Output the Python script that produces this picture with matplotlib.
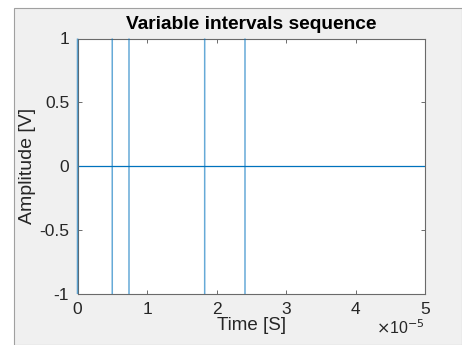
import matplotlib
matplotlib.use("Agg")
import matplotlib.pyplot as plt
import numpy as np
from matplotlib.ticker import FuncFormatter
from matplotlib.patches import Rectangle

# Data: pulse times (s) of the variable-interval sequence
pulse_times = [0.0, 0.50e-5, 0.741e-5, 1.83e-5, 2.41e-5]
pulse_high = 1.0
pulse_low = -1.0
baseline = 0.0
t_start = 0.0
t_end = 5e-5

xticks = [0, 1e-5, 2e-5, 3e-5, 4e-5, 5e-5]
yticks = [-1, -0.5, 0, 0.5, 1]

plt.rcParams['font.family'] = ['Liberation Sans', 'DejaVu Sans']

W, H = 462, 345
fig = plt.figure(figsize=(W / 100, H / 100), dpi=100, facecolor='white')

# window-like frame
fig.patches.append(Rectangle((14 / W, 0), 1 - 14 / W, 1 - 8 / H, transform=fig.transFigure,
                             facecolor='#f0f0f0', edgecolor='#a0a0a0', linewidth=0.8, zorder=-10))

ax = fig.add_axes([77.5 / W, 1 - 294 / H, (425 - 77.5) / W, (294 - 38.5) / H])
ax.set_facecolor('white')
ax.vlines(pulse_times, pulse_low, pulse_high, colors='#0072BD', alpha=0.6, linewidth=1.1,
          snap=False, clip_on=False, zorder=3)
ax.plot([t_start, t_end], [baseline, baseline], color='#0072BD', linewidth=0.9)

ax.set_xlim(0, t_end)
ax.set_ylim(-1, 1)
ax.set_xticks(xticks)
ax.set_yticks(yticks)
ax.xaxis.set_major_formatter(FuncFormatter(lambda v, p: f"{v / 1e-5:g}"))
ax.yaxis.set_major_formatter(FuncFormatter(lambda v, p: f"{v:g}"))
ax.tick_params(direction='in', length=3, width=0.6, colors='#555555', labelcolor='#262626',
               labelsize=12.5, top=True, right=True, pad=6)
for s in ax.spines.values():
    s.set_color('#6a6a6a')
    s.set_linewidth(0.8)

ax.set_title('Variable intervals sequence', fontsize=13.8, fontweight='bold', color='black', pad=7)
ax.set_xlabel('Time [S]', fontsize=13.5, color='#262626', labelpad=0)
ax.set_ylabel('Amplitude [V]', fontsize=14, color='#262626')
ax.yaxis.set_label_coords((28 - 77.5) / 347.5, 0.5)
ax.yaxis.label.set_va('center')

fig.text(425 / W, 1 - 328 / H, r'$\times$10$^{-5}$', ha='right', va='center', fontsize=11.5, color='#262626')

fig.savefig('out.png', dpi=100, facecolor=fig.get_facecolor())
